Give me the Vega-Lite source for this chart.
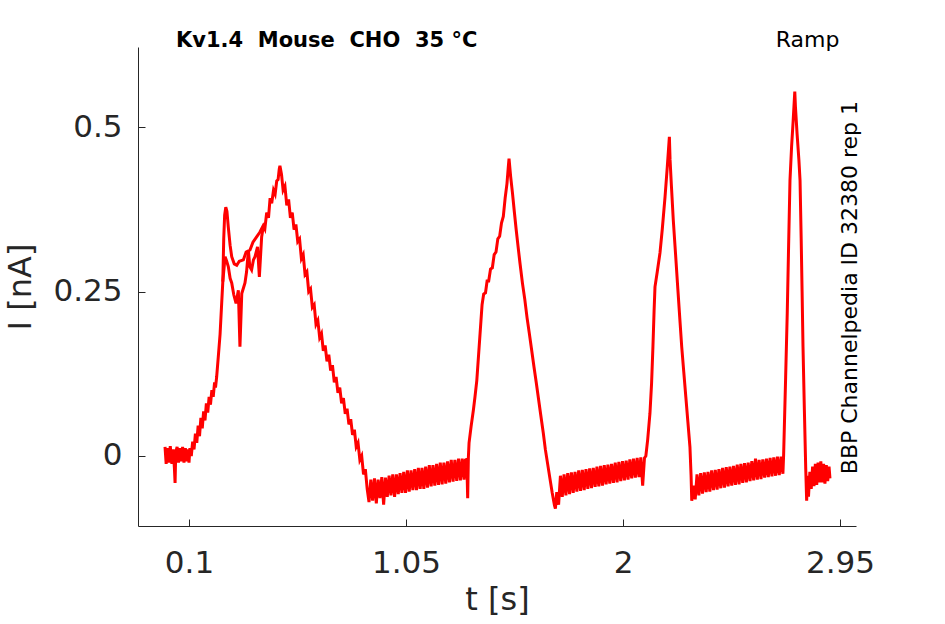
{
  "$schema": "https://vega.github.io/schema/vega-lite/v6.json",
  "width": 718,
  "height": 479,
  "autosize": {"type": "none"},
  "padding": {"left": 138, "top": 47, "right": 89, "bottom": 98},
  "background": "white",
  "datasets": {
    "traceA": [
      {"t": -0.005, "i": 0.014}, {"t": 0.0, "i": -0.012}, {"t": 0.005, "i": 0.012}, {"t": 0.012, "i": -0.010},
      {"t": 0.018, "i": 0.015}, {"t": 0.025, "i": -0.012}, {"t": 0.031, "i": 0.010}, {"t": 0.036, "i": -0.018},
      {"t": 0.039, "i": -0.041}, {"t": 0.042, "i": 0.006}, {"t": 0.048, "i": 0.014}, {"t": 0.054, "i": -0.010},
      {"t": 0.060, "i": 0.012}, {"t": 0.066, "i": -0.008}, {"t": 0.072, "i": 0.014}, {"t": 0.078, "i": -0.010},
      {"t": 0.084, "i": 0.012}, {"t": 0.090, "i": -0.008}, {"t": 0.096, "i": 0.010}, {"t": 0.100, "i": -0.010},
      {"t": 0.104, "i": 0.012}, {"t": 0.110, "i": 0.000}, {"t": 0.116, "i": 0.022}, {"t": 0.122, "i": 0.010},
      {"t": 0.128, "i": 0.034}, {"t": 0.134, "i": 0.020}, {"t": 0.140, "i": 0.046}, {"t": 0.146, "i": 0.030},
      {"t": 0.152, "i": 0.058}, {"t": 0.158, "i": 0.042}, {"t": 0.164, "i": 0.068}, {"t": 0.170, "i": 0.054},
      {"t": 0.176, "i": 0.080}, {"t": 0.182, "i": 0.066}, {"t": 0.188, "i": 0.090}, {"t": 0.194, "i": 0.078},
      {"t": 0.200, "i": 0.100}, {"t": 0.206, "i": 0.090}, {"t": 0.212, "i": 0.112}, {"t": 0.216, "i": 0.104},
      {"t": 0.221, "i": 0.120}, {"t": 0.228, "i": 0.150}, {"t": 0.236, "i": 0.185}, {"t": 0.242, "i": 0.225},
      {"t": 0.248, "i": 0.265}, {"t": 0.252, "i": 0.330}, {"t": 0.256, "i": 0.366}, {"t": 0.261, "i": 0.378},
      {"t": 0.266, "i": 0.372}, {"t": 0.272, "i": 0.348}, {"t": 0.280, "i": 0.320}, {"t": 0.287, "i": 0.303},
      {"t": 0.298, "i": 0.292}, {"t": 0.309, "i": 0.290}, {"t": 0.320, "i": 0.296}, {"t": 0.338, "i": 0.298},
      {"t": 0.350, "i": 0.310}, {"t": 0.367, "i": 0.313}, {"t": 0.380, "i": 0.325}, {"t": 0.396, "i": 0.333},
      {"t": 0.410, "i": 0.340}, {"t": 0.425, "i": 0.350}, {"t": 0.432, "i": 0.345}, {"t": 0.440, "i": 0.370},
      {"t": 0.448, "i": 0.362}, {"t": 0.455, "i": 0.392}, {"t": 0.462, "i": 0.384}, {"t": 0.470, "i": 0.404},
      {"t": 0.477, "i": 0.398}, {"t": 0.484, "i": 0.418}, {"t": 0.490, "i": 0.420}, {"t": 0.495, "i": 0.436},
      {"t": 0.498, "i": 0.441}, {"t": 0.505, "i": 0.428}, {"t": 0.512, "i": 0.404}, {"t": 0.520, "i": 0.410},
      {"t": 0.528, "i": 0.381}, {"t": 0.536, "i": 0.390}, {"t": 0.544, "i": 0.362}, {"t": 0.552, "i": 0.370},
      {"t": 0.560, "i": 0.344}, {"t": 0.568, "i": 0.352}, {"t": 0.576, "i": 0.326}, {"t": 0.584, "i": 0.330},
      {"t": 0.592, "i": 0.300}, {"t": 0.600, "i": 0.306}, {"t": 0.608, "i": 0.276}, {"t": 0.616, "i": 0.280},
      {"t": 0.624, "i": 0.250}, {"t": 0.632, "i": 0.254}, {"t": 0.640, "i": 0.226}, {"t": 0.648, "i": 0.230},
      {"t": 0.656, "i": 0.200}, {"t": 0.664, "i": 0.206}, {"t": 0.672, "i": 0.180}, {"t": 0.680, "i": 0.186},
      {"t": 0.688, "i": 0.160}, {"t": 0.696, "i": 0.168}, {"t": 0.704, "i": 0.144}, {"t": 0.712, "i": 0.154},
      {"t": 0.720, "i": 0.130}, {"t": 0.728, "i": 0.138}, {"t": 0.736, "i": 0.112}, {"t": 0.744, "i": 0.120},
      {"t": 0.752, "i": 0.096}, {"t": 0.760, "i": 0.104}, {"t": 0.768, "i": 0.080}, {"t": 0.776, "i": 0.088},
      {"t": 0.784, "i": 0.064}, {"t": 0.792, "i": 0.072}, {"t": 0.800, "i": 0.048}, {"t": 0.808, "i": 0.056},
      {"t": 0.816, "i": 0.032}, {"t": 0.824, "i": 0.040}, {"t": 0.832, "i": 0.014}, {"t": 0.840, "i": 0.020},
      {"t": 0.848, "i": -0.006}, {"t": 0.856, "i": 0.000}, {"t": 0.864, "i": -0.028}, {"t": 0.872, "i": -0.020},
      {"t": 0.880, "i": -0.050},
      {"t": 0.888, "i": -0.070}, {"t": 0.896, "i": -0.036}, {"t": 0.904, "i": -0.068}, {"t": 0.912, "i": -0.034},
      {"t": 0.920, "i": -0.072}, {"t": 0.928, "i": -0.036}, {"t": 0.936, "i": -0.064}, {"t": 0.944, "i": -0.032},
      {"t": 0.952, "i": -0.074}, {"t": 0.960, "i": -0.033}, {"t": 0.968, "i": -0.062}, {"t": 0.976, "i": -0.030},
      {"t": 0.984, "i": -0.060}, {"t": 0.992, "i": -0.028}, {"t": 1.000, "i": -0.062}, {"t": 1.008, "i": -0.028},
      {"t": 1.016, "i": -0.058}, {"t": 1.024, "i": -0.026}, {"t": 1.032, "i": -0.056}, {"t": 1.040, "i": -0.024},
      {"t": 1.048, "i": -0.056}, {"t": 1.056, "i": -0.022}, {"t": 1.064, "i": -0.054}, {"t": 1.072, "i": -0.022},
      {"t": 1.080, "i": -0.052}, {"t": 1.088, "i": -0.020}, {"t": 1.096, "i": -0.052}, {"t": 1.104, "i": -0.018},
      {"t": 1.112, "i": -0.050}, {"t": 1.120, "i": -0.018}, {"t": 1.128, "i": -0.050}, {"t": 1.136, "i": -0.016},
      {"t": 1.144, "i": -0.048}, {"t": 1.152, "i": -0.014}, {"t": 1.160, "i": -0.046}, {"t": 1.168, "i": -0.014},
      {"t": 1.176, "i": -0.045}, {"t": 1.184, "i": -0.012}, {"t": 1.192, "i": -0.044}, {"t": 1.200, "i": -0.010},
      {"t": 1.208, "i": -0.043}, {"t": 1.216, "i": -0.010}, {"t": 1.224, "i": -0.042}, {"t": 1.232, "i": -0.008},
      {"t": 1.240, "i": -0.040}, {"t": 1.248, "i": -0.006}, {"t": 1.256, "i": -0.039}, {"t": 1.264, "i": -0.006},
      {"t": 1.272, "i": -0.038}, {"t": 1.280, "i": -0.004}, {"t": 1.288, "i": -0.037}, {"t": 1.296, "i": -0.004},
      {"t": 1.304, "i": -0.036}, {"t": 1.310, "i": -0.006}, {"t": 1.316, "i": -0.005}, {"t": 1.320, "i": -0.064},
      {"t": 1.323, "i": -0.002}, {"t": 1.326, "i": 0.020}, {"t": 1.335, "i": 0.045}, {"t": 1.345, "i": 0.070},
      {"t": 1.352, "i": 0.090}, {"t": 1.360, "i": 0.115}, {"t": 1.370, "i": 0.165}, {"t": 1.378, "i": 0.205},
      {"t": 1.383, "i": 0.230}, {"t": 1.390, "i": 0.246}, {"t": 1.398, "i": 0.248}, {"t": 1.405, "i": 0.266},
      {"t": 1.412, "i": 0.266}, {"t": 1.420, "i": 0.284}, {"t": 1.428, "i": 0.286}, {"t": 1.436, "i": 0.306},
      {"t": 1.444, "i": 0.310}, {"t": 1.452, "i": 0.330}, {"t": 1.460, "i": 0.334}, {"t": 1.468, "i": 0.354},
      {"t": 1.476, "i": 0.364}, {"t": 1.484, "i": 0.392}, {"t": 1.492, "i": 0.414}, {"t": 1.498, "i": 0.440},
      {"t": 1.501, "i": 0.452}, {"t": 1.508, "i": 0.425}, {"t": 1.516, "i": 0.400}, {"t": 1.524, "i": 0.372},
      {"t": 1.532, "i": 0.345}, {"t": 1.540, "i": 0.320}, {"t": 1.549, "i": 0.293}, {"t": 1.560, "i": 0.262},
      {"t": 1.570, "i": 0.238}, {"t": 1.580, "i": 0.210}, {"t": 1.590, "i": 0.186}, {"t": 1.600, "i": 0.161},
      {"t": 1.610, "i": 0.136}, {"t": 1.620, "i": 0.112}, {"t": 1.630, "i": 0.087}, {"t": 1.640, "i": 0.062},
      {"t": 1.651, "i": 0.035}, {"t": 1.660, "i": 0.010}, {"t": 1.670, "i": -0.012}, {"t": 1.680, "i": -0.034},
      {"t": 1.690, "i": -0.056}, {"t": 1.700, "i": -0.075}, {"t": 1.704, "i": -0.080},
      {"t": 1.710, "i": -0.055}, {"t": 1.718, "i": -0.074}, {"t": 1.726, "i": -0.030}, {"t": 1.734, "i": -0.062},
      {"t": 1.742, "i": -0.028}, {"t": 1.750, "i": -0.060}, {"t": 1.758, "i": -0.026}, {"t": 1.766, "i": -0.058},
      {"t": 1.774, "i": -0.025}, {"t": 1.782, "i": -0.056}, {"t": 1.790, "i": -0.024}, {"t": 1.798, "i": -0.054},
      {"t": 1.806, "i": -0.022}, {"t": 1.814, "i": -0.053}, {"t": 1.822, "i": -0.021}, {"t": 1.830, "i": -0.052},
      {"t": 1.838, "i": -0.020}, {"t": 1.846, "i": -0.050}, {"t": 1.854, "i": -0.019}, {"t": 1.862, "i": -0.049},
      {"t": 1.870, "i": -0.018}, {"t": 1.878, "i": -0.047}, {"t": 1.886, "i": -0.016}, {"t": 1.894, "i": -0.046},
      {"t": 1.902, "i": -0.015}, {"t": 1.910, "i": -0.045}, {"t": 1.918, "i": -0.014}, {"t": 1.926, "i": -0.043},
      {"t": 1.934, "i": -0.013}, {"t": 1.942, "i": -0.042}, {"t": 1.950, "i": -0.012}, {"t": 1.958, "i": -0.041},
      {"t": 1.966, "i": -0.010}, {"t": 1.974, "i": -0.040}, {"t": 1.982, "i": -0.009}, {"t": 1.990, "i": -0.038},
      {"t": 1.998, "i": -0.008}, {"t": 2.006, "i": -0.037}, {"t": 2.014, "i": -0.007}, {"t": 2.022, "i": -0.036},
      {"t": 2.030, "i": -0.005}, {"t": 2.038, "i": -0.034}, {"t": 2.046, "i": -0.004}, {"t": 2.054, "i": -0.033},
      {"t": 2.062, "i": -0.003}, {"t": 2.070, "i": -0.032}, {"t": 2.078, "i": -0.002}, {"t": 2.086, "i": -0.045},
      {"t": 2.094, "i": -0.003}, {"t": 2.100, "i": 0.000}, {"t": 2.108, "i": 0.025}, {"t": 2.118, "i": 0.065},
      {"t": 2.125, "i": 0.110}, {"t": 2.131, "i": 0.166}, {"t": 2.136, "i": 0.220}, {"t": 2.140, "i": 0.257},
      {"t": 2.150, "i": 0.280}, {"t": 2.162, "i": 0.309}, {"t": 2.172, "i": 0.345}, {"t": 2.184, "i": 0.394},
      {"t": 2.194, "i": 0.440}, {"t": 2.203, "i": 0.485}, {"t": 2.206, "i": 0.450}, {"t": 2.212, "i": 0.410},
      {"t": 2.220, "i": 0.359}, {"t": 2.230, "i": 0.307}, {"t": 2.240, "i": 0.254}, {"t": 2.250, "i": 0.202},
      {"t": 2.257, "i": 0.166}, {"t": 2.266, "i": 0.128}, {"t": 2.275, "i": 0.090}, {"t": 2.284, "i": 0.052},
      {"t": 2.293, "i": 0.014}, {"t": 2.298, "i": -0.030}, {"t": 2.301, "i": -0.068},
      {"t": 2.308, "i": -0.045}, {"t": 2.316, "i": -0.066}, {"t": 2.324, "i": -0.028}, {"t": 2.332, "i": -0.060},
      {"t": 2.340, "i": -0.026}, {"t": 2.348, "i": -0.057}, {"t": 2.356, "i": -0.025}, {"t": 2.364, "i": -0.055},
      {"t": 2.372, "i": -0.024}, {"t": 2.380, "i": -0.054}, {"t": 2.388, "i": -0.022}, {"t": 2.396, "i": -0.052},
      {"t": 2.404, "i": -0.021}, {"t": 2.412, "i": -0.051}, {"t": 2.420, "i": -0.020}, {"t": 2.428, "i": -0.049},
      {"t": 2.436, "i": -0.018}, {"t": 2.444, "i": -0.048}, {"t": 2.452, "i": -0.017}, {"t": 2.460, "i": -0.046},
      {"t": 2.468, "i": -0.016}, {"t": 2.476, "i": -0.045}, {"t": 2.484, "i": -0.015}, {"t": 2.492, "i": -0.044},
      {"t": 2.500, "i": -0.013}, {"t": 2.508, "i": -0.043}, {"t": 2.516, "i": -0.012}, {"t": 2.524, "i": -0.041},
      {"t": 2.532, "i": -0.011}, {"t": 2.540, "i": -0.040}, {"t": 2.548, "i": -0.010}, {"t": 2.556, "i": -0.038},
      {"t": 2.564, "i": -0.008}, {"t": 2.572, "i": -0.037}, {"t": 2.580, "i": -0.004}, {"t": 2.588, "i": -0.036},
      {"t": 2.596, "i": -0.006}, {"t": 2.604, "i": -0.035}, {"t": 2.612, "i": -0.005}, {"t": 2.620, "i": -0.033},
      {"t": 2.628, "i": -0.004}, {"t": 2.636, "i": -0.032}, {"t": 2.644, "i": -0.003}, {"t": 2.652, "i": -0.031},
      {"t": 2.660, "i": -0.002}, {"t": 2.668, "i": -0.030}, {"t": 2.676, "i": -0.001}, {"t": 2.684, "i": -0.029},
      {"t": 2.692, "i": -0.001}, {"t": 2.700, "i": -0.027}, {"t": 2.703, "i": 0.000}, {"t": 2.706, "i": 0.040},
      {"t": 2.712, "i": 0.120}, {"t": 2.719, "i": 0.217}, {"t": 2.725, "i": 0.320}, {"t": 2.731, "i": 0.419},
      {"t": 2.738, "i": 0.470}, {"t": 2.745, "i": 0.510}, {"t": 2.752, "i": 0.554}, {"t": 2.755, "i": 0.530},
      {"t": 2.762, "i": 0.490}, {"t": 2.770, "i": 0.450}, {"t": 2.775, "i": 0.419}, {"t": 2.780, "i": 0.330},
      {"t": 2.784, "i": 0.250}, {"t": 2.788, "i": 0.166}, {"t": 2.794, "i": 0.070}, {"t": 2.800, "i": -0.020},
      {"t": 2.804, "i": -0.068}, {"t": 2.808, "i": -0.030}, {"t": 2.812, "i": -0.062}, {"t": 2.818, "i": -0.024},
      {"t": 2.824, "i": -0.050}, {"t": 2.830, "i": -0.016}, {"t": 2.836, "i": -0.046}, {"t": 2.842, "i": -0.012},
      {"t": 2.848, "i": -0.044}, {"t": 2.854, "i": -0.010}, {"t": 2.860, "i": -0.040}, {"t": 2.866, "i": -0.008},
      {"t": 2.872, "i": -0.040}, {"t": 2.878, "i": -0.012}, {"t": 2.884, "i": -0.042}, {"t": 2.890, "i": -0.014},
      {"t": 2.896, "i": -0.038}, {"t": 2.902, "i": -0.016}, {"t": 2.906, "i": -0.034}
    ],
    "traceB": [
      {"t": 0.248, "i": 0.265}, {"t": 0.258, "i": 0.303}, {"t": 0.265, "i": 0.296}, {"t": 0.272, "i": 0.288},
      {"t": 0.280, "i": 0.270}, {"t": 0.287, "i": 0.263}, {"t": 0.296, "i": 0.245}, {"t": 0.306, "i": 0.232},
      {"t": 0.316, "i": 0.252}, {"t": 0.323, "i": 0.166}, {"t": 0.331, "i": 0.247}, {"t": 0.345, "i": 0.263},
      {"t": 0.352, "i": 0.280}, {"t": 0.360, "i": 0.313}, {"t": 0.366, "i": 0.288}, {"t": 0.374, "i": 0.283},
      {"t": 0.382, "i": 0.298}, {"t": 0.389, "i": 0.303}, {"t": 0.400, "i": 0.318}, {"t": 0.408, "i": 0.272},
      {"t": 0.418, "i": 0.333}, {"t": 0.425, "i": 0.348}
    ]
  },
  "layer": [
    {
      "data": {"name": "traceA"},
      "mark": {"type": "line", "color": "#ff0000", "strokeWidth": 3, "clip": true},
      "encoding": {
        "x": {
          "field": "t",
          "type": "quantitative",
          "title": "t [s]",
          "scale": {"domain": [-0.1233, 3.02], "nice": false, "zero": false},
          "axis": {
            "values": [0.1, 1.05, 2, 2.95],
            "format": ".3~g",
            "grid": false,
            "tickSize": -7,
            "labelPadding": 29,
            "titlePadding": 6
          }
        },
        "y": {
          "field": "i",
          "type": "quantitative",
          "title": "I [nA]",
          "scale": {"domain": [-0.1064, 0.6216], "nice": false, "zero": false},
          "axis": {
            "values": [0, 0.25, 0.5],
            "format": ".2~g",
            "grid": false,
            "tickSize": -7,
            "labelPadding": 23,
            "titlePadding": 15
          }
        }
      }
    },
    {
      "data": {"name": "traceB"},
      "mark": {"type": "line", "color": "#ff0000", "strokeWidth": 3, "clip": true},
      "encoding": {
        "x": {"field": "t", "type": "quantitative"},
        "y": {"field": "i", "type": "quantitative"}
      }
    },
    {
      "data": {"values": [{}]},
      "mark": {
        "type": "text",
        "text": "Kv1.4\u00a0\u00a0Mouse\u00a0\u00a0CHO\u00a0\u00a035\u00a0°C",
        "font": "DejaVu Sans",
        "fontSize": 21,
        "fontWeight": "bold",
        "align": "left",
        "baseline": "alphabetic",
        "color": "black"
      },
      "encoding": {
        "x": {"datum": 0.0431, "type": "quantitative"},
        "y": {"datum": 0.6216, "type": "quantitative"}
      }
    },
    {
      "data": {"values": [{}]},
      "mark": {
        "type": "text",
        "text": "Ramp",
        "font": "DejaVu Sans",
        "fontSize": 22,
        "align": "center",
        "baseline": "alphabetic",
        "color": "black"
      },
      "encoding": {
        "x": {"datum": 2.808, "type": "quantitative"},
        "y": {"datum": 0.6216, "type": "quantitative"}
      }
    },
    {
      "data": {"values": [{}]},
      "mark": {
        "type": "text",
        "text": "BBP Channelpedia ID 32380 rep 1",
        "font": "DejaVu Sans",
        "fontSize": 22,
        "angle": 270,
        "align": "center",
        "baseline": "alphabetic",
        "color": "black"
      },
      "encoding": {
        "x": {"datum": 3.0245, "type": "quantitative"},
        "y": {"datum": 0.256, "type": "quantitative"}
      }
    }
  ],
  "config": {
    "view": {"stroke": null},
    "axis": {
      "domainColor": "#262626",
      "domainWidth": 1,
      "tickColor": "#262626",
      "tickWidth": 1,
      "labelFont": "DejaVu Sans",
      "labelFontSize": 31,
      "labelColor": "#262626",
      "titleFont": "DejaVu Sans",
      "titleFontSize": 32,
      "titleFontWeight": "normal",
      "titleColor": "#262626"
    }
  }
}
